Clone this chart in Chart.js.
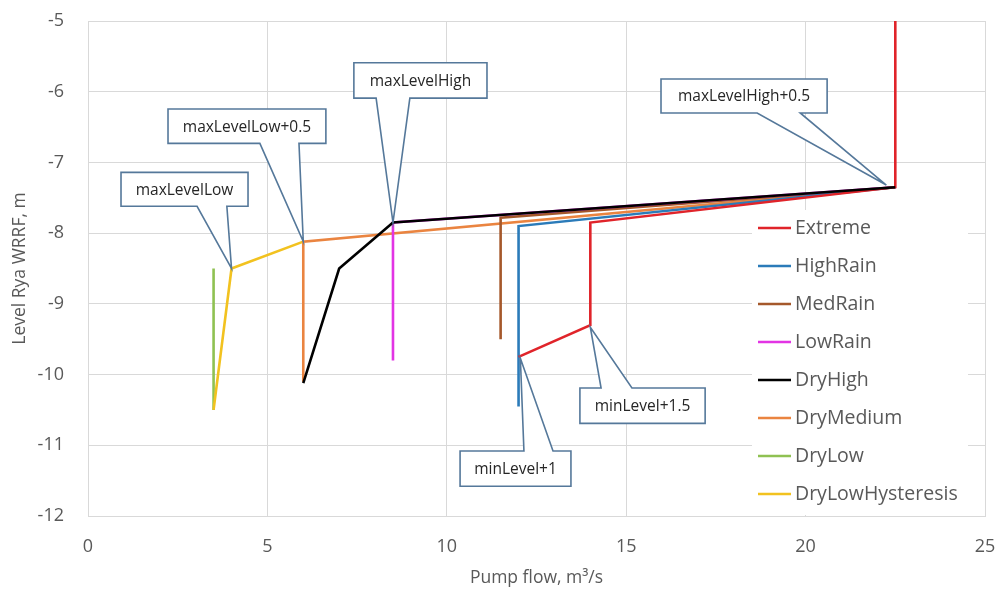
<!DOCTYPE html>
<html>
<head>
<meta charset="utf-8">
<script src="https://cdn.jsdelivr.net/npm/chart.js@4/dist/chart.umd.min.js"></script>
<style>
  html, body { margin: 0; padding: 0; background: #fff; }
  #wrap { width: 998px; height: 589px; position: relative; }
</style>
</head>
<body>
<div id="wrap"><canvas id="pumpChart"></canvas></div>
<script>
// scenario curves: [pump flow, level]
const seriesNames = ["Extreme", "HighRain", "MedRain", "LowRain", "DryHigh", "DryMedium", "DryLow", "DryLowHysteresis"];
const extremeX = [12, 14, 14, 22.5, 22.5];
const extremeY = [-9.75, -9.3, -7.85, -7.35, -5];
const highRainX = [12, 12, 22.5];
const highRainY = [-10.45, -7.9, -7.35];
const medRainX = [11.5, 11.5, 22.5];
const medRainY = [-9.5, -7.78, -7.35];
const lowRainX = [8.5, 8.5, 22.5];
const lowRainY = [-9.8, -7.85, -7.35];
const dryHighX = [6, 7, 8.5, 22.5];
const dryHighY = [-10.12, -8.5, -7.85, -7.35];
const dryMediumX = [6, 6, 22.5];
const dryMediumY = [-10.1, -8.12, -7.35];
const dryLowX = [3.5, 3.5];
const dryLowY = [-8.5, -10.5];
const dryLowHystX = [3.5, 4, 6];
const dryLowHystY = [-10.5, -8.5, -8.12];

const xTicks = [0, 5, 10, 15, 20, 25];
const yTicks = [-12, -11, -10, -9, -8, -7, -6, -5];

const colors = ["#e0242a", "#2b7bb9", "#a5582b", "#e234e4", "#000000", "#ea8440", "#8fc152", "#f2c21f"];
// drawing order: lower = on top
const drawOrder = [1, 2, 4, 3, 0, 5, 7, 6];

// callout labels: tip is a data point, box/base are in axis units
const callouts = [
  { text: "maxLevelLow",       tip: [4, -8.5],      box: [0.92, 4.46, -7.14, -7.62],  base: [3.04, 3.87] },
  { text: "maxLevelLow+0.5",   tip: [6, -8.12],     box: [2.23, 6.63, -6.245, -6.73], base: [4.79, 5.88] },
  { text: "maxLevelHigh",      tip: [8.5, -7.85],   box: [7.41, 11.12, -5.59, -6.09], base: [8.03, 8.97] },
  { text: "maxLevelHigh+0.5",  tip: [22.25, -7.32], box: [15.97, 20.6, -5.82, -6.30], base: [18.65, 19.85] },
  { text: "minLevel+1",        tip: [12.05, -9.77], box: [10.37, 13.46, -11.08, -11.58], base: [12.15, 12.96] },
  { text: "minLevel+1.5",      tip: [14, -9.33],    box: [13.71, 17.2, -10.19, -10.69], base: [14.3, 15.16] }
];

const xs = [extremeX, highRainX, medRainX, lowRainX, dryHighX, dryMediumX, dryLowX, dryLowHystX];
const ys = [extremeY, highRainY, medRainY, lowRainY, dryHighY, dryMediumY, dryLowY, dryLowHystY];

const datasets = seriesNames.map((name, i) => ({
  label: name,
  data: xs[i].map((x, k) => ({ x, y: ys[i][k] })),
  borderColor: colors[i],
  backgroundColor: colors[i],
  borderWidth: 2.6,
  showLine: true,
  pointRadius: 0,
  tension: 0,
  order: drawOrder[i]
}));

const FONT = "'Open Sans', 'Noto Sans', sans-serif";

const calloutPlugin = {
  id: "callouts",
  afterDatasetsDraw(chart) {
    const { ctx, scales: { x, y } } = chart;
    ctx.save();
    ctx.font = "15.5px " + FONT;
    callouts.forEach(c => {
      const l = x.getPixelForValue(c.box[0]);
      const r = x.getPixelForValue(c.box[1]);
      const t = y.getPixelForValue(c.box[2]);
      const b = y.getPixelForValue(c.box[3]);
      const tx = x.getPixelForValue(c.tip[0]);
      const ty = y.getPixelForValue(c.tip[1]);
      const b1 = x.getPixelForValue(c.base[0]);
      const b2 = x.getPixelForValue(c.base[1]);
      const below = ty > b;
      ctx.beginPath();
      ctx.moveTo(l, t);
      if (!below) {
        ctx.lineTo(b1, t); ctx.lineTo(tx, ty); ctx.lineTo(b2, t);
      }
      ctx.lineTo(r, t);
      ctx.lineTo(r, b);
      if (below) {
        ctx.lineTo(b2, b); ctx.lineTo(tx, ty); ctx.lineTo(b1, b);
      }
      ctx.lineTo(l, b);
      ctx.closePath();
      ctx.fillStyle = "#ffffff";
      ctx.fill();
      ctx.strokeStyle = "#55789a";
      ctx.lineWidth = 1.6;
      ctx.stroke();
      ctx.fillStyle = "#262626";
      ctx.textAlign = "center";
      ctx.textBaseline = "middle";
      ctx.fillText(c.text, (l + r) / 2, (t + b) / 2 + 1);
    });
    ctx.restore();
  }
};

const legendPlugin = {
  id: "insideLegend",
  afterDatasetsDraw(chart) {
    const { ctx, chartArea } = chart;
    const left = chartArea.right - 233;
    const top = chartArea.bottom - 306;
    ctx.save();
    ctx.fillStyle = "#ffffff";
    ctx.fillRect(left, top, 216, 305);
    ctx.font = "19.5px " + FONT;
    ctx.textBaseline = "middle";
    ctx.textAlign = "left";
    seriesNames.forEach((name, i) => {
      const yy = top + 18 + i * 38;
      ctx.strokeStyle = colors[i];
      ctx.lineWidth = 2.6;
      ctx.beginPath();
      ctx.moveTo(left + 6, yy);
      ctx.lineTo(left + 39, yy);
      ctx.stroke();
      ctx.fillStyle = "#595959";
      ctx.fillText(name, left + 43, yy);
    });
    ctx.restore();
  }
};

new Chart(document.getElementById("pumpChart"), {
  type: "scatter",
  data: { datasets },
  options: {
    responsive: true,
    maintainAspectRatio: false,
    animation: false,
    layout: { padding: { top: 21, right: 13, left: 0, bottom: 0 } },
    plugins: {
      legend: { display: false },
      tooltip: { enabled: false }
    },
    scales: {
      x: {
        type: "linear",
        min: 0,
        max: 25,
        afterBuildTicks: axis => { axis.ticks = xTicks.map(v => ({ value: v })); },
        afterFit: axis => { axis.height = 73; axis.paddingRight = 0; axis.paddingLeft = 0; },
        grid: { color: "#d9d9d9", lineWidth: 1, drawTicks: false },
        border: { color: "#d9d9d9" },
        ticks: { color: "#595959", font: { family: FONT, size: 18 }, padding: 20 },
        title: { display: true, text: "Pump flow, m³/s", color: "#595959", font: { family: FONT, size: 17.5 }, padding: { top: 0, bottom: 0 } }
      },
      y: {
        type: "linear",
        min: -12,
        max: -5,
        afterBuildTicks: axis => { axis.ticks = yTicks.map(v => ({ value: v })); },
        afterFit: axis => { axis.width = 88; axis.paddingTop = 0; axis.paddingBottom = 0; },
        grid: { color: "#d9d9d9", lineWidth: 1, drawTicks: false },
        border: { color: "#d9d9d9" },
        ticks: { color: "#595959", font: { family: FONT, size: 18 }, padding: 24 },
        title: { display: true, text: "Level Rya WRRF, m", color: "#595959", font: { family: FONT, size: 17.5 }, padding: { top: 10, bottom: 0 } }
      }
    }
  },
  plugins: [legendPlugin, calloutPlugin]
});
</script>
</body>
</html>
